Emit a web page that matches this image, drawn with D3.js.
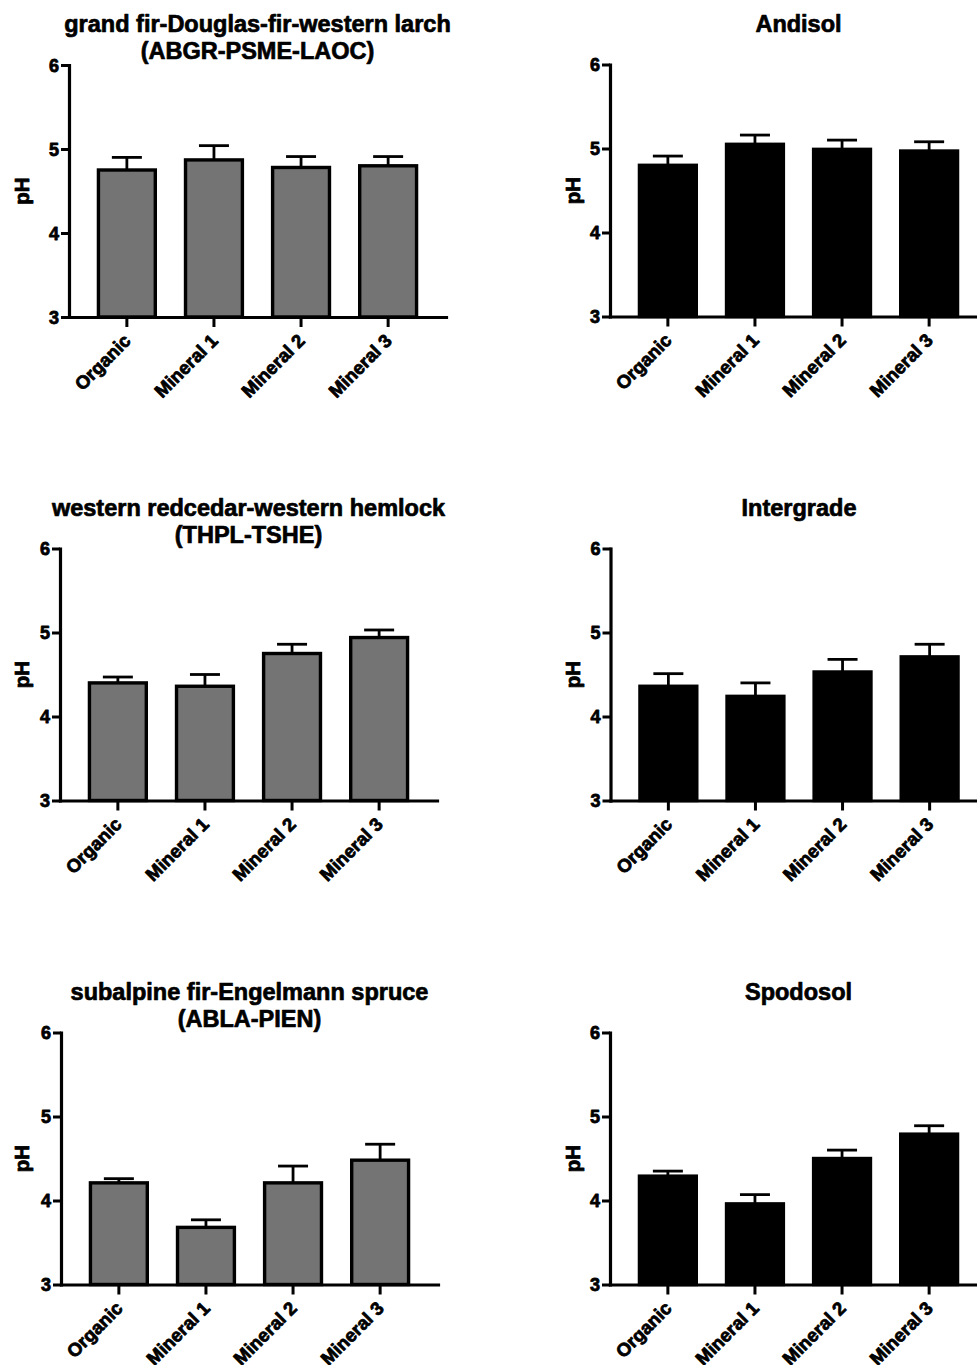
<!DOCTYPE html>
<html>
<head>
<meta charset="utf-8">
<script src="https://cdn.jsdelivr.net/npm/d3@7"></script>
<style>
  html, body { margin: 0; padding: 0; background: #fff; }
  svg { display: block; font-family: "Liberation Sans", Arial, Helvetica, sans-serif; font-weight: bold; }
  svg text { stroke: #000; stroke-width: 0.8px; paint-order: stroke; stroke-linejoin: round; }
  svg text.title { stroke-width: 0.7px; }
</style>
</head>
<body>
<svg id="chart" width="977" height="1365"></svg>
<script>
// Soil horizons shown on every panel
const categories = ["Organic", "Mineral 1", "Mineral 2", "Mineral 3"];
const yTicks = [3, 4, 5, 6];

// Panel titles (one entry per line)
const titleABGR = ["grand fir-Douglas-fir-western larch", "(ABGR-PSME-LAOC)"];
const titleAndisol = ["Andisol"];
const titleTHPL = ["western redcedar-western hemlock", "(THPL-TSHE)"];
const titleIntergrade = ["Intergrade"];
const titleABLA = ["subalpine fir-Engelmann spruce", "(ABLA-PIEN)"];
const titleSpodosol = ["Spodosol"];

// Mean pH and standard error per horizon
const meanABGR = [4.75, 4.87, 4.78, 4.80];
const seABGR = [0.15, 0.17, 0.13, 0.11];
const meanAndisol = [4.80, 5.05, 4.99, 4.97];
const seAndisol = [0.11, 0.11, 0.11, 0.11];
const meanTHPL = [4.40, 4.36, 4.75, 4.94];
const seTHPL = [0.07, 0.14, 0.11, 0.09];
const meanIntergrade = [4.36, 4.24, 4.53, 4.71];
const seIntergrade = [0.15, 0.16, 0.15, 0.15];
const meanABLA = [4.21, 3.68, 4.21, 4.48];
const seABLA = [0.05, 0.09, 0.20, 0.19];
const meanSpodosol = [4.29, 3.96, 4.50, 4.79];
const seSpodosol = [0.06, 0.11, 0.10, 0.10];

// Panel placement and styling
const panels = [
  { title: titleABGR, mean: meanABGR, se: seABGR, left: 69, top: 65, labelX: 29, fill: "#747474" },
  { title: titleAndisol, mean: meanAndisol, se: seAndisol, left: 610, top: 64.5, labelX: 580, fill: "#000" },
  { title: titleTHPL, mean: meanTHPL, se: seTHPL, left: 60, top: 548.5, labelX: 29, fill: "#747474" },
  { title: titleIntergrade, mean: meanIntergrade, se: seIntergrade, left: 610.5, top: 548.5, labelX: 580, fill: "#000" },
  { title: titleABLA, mean: meanABLA, se: seABLA, left: 61, top: 1032.5, labelX: 29, fill: "#747474" },
  { title: titleSpodosol, mean: meanSpodosol, se: seSpodosol, left: 610, top: 1032.5, labelX: 580, fill: "#000" }
];

const plotW = 377, plotH = 252;
const svg = d3.select("#chart");

panels.forEach(p => {
  const g = svg.append("g");
  const x = d3.scaleBand()
    .domain(categories)
    .range([p.left, p.left + plotW])
    .paddingInner(0.347)
    .paddingOuter(0.338);
  const y = d3.scaleLinear().domain([3, 6]).range([p.top + plotH, p.top]);
  const base = y(3);

  // Bars
  const rows = categories.map((c, i) => ({ c, v: p.mean[i], e: p.se[i] }));
  g.selectAll("rect.bar").data(rows).join("rect")
    .attr("class", "bar")
    .attr("x", d => x(d.c))
    .attr("width", x.bandwidth())
    .attr("y", d => y(d.v))
    .attr("height", d => base - y(d.v))
    .attr("fill", p.fill)
    .attr("stroke", "#000")
    .attr("stroke-width", 3.4);

  // Upper error bars
  const cx = d => x(d.c) + x.bandwidth() / 2;
  g.selectAll("line.err").data(rows).join("line")
    .attr("class", "err")
    .attr("x1", cx).attr("x2", cx)
    .attr("y1", d => y(d.v)).attr("y2", d => y(d.v + d.e))
    .attr("stroke", "#000").attr("stroke-width", 2.8);
  g.selectAll("line.cap").data(rows).join("line")
    .attr("class", "cap")
    .attr("x1", d => cx(d) - 15).attr("x2", d => cx(d) + 15)
    .attr("y1", d => y(d.v + d.e)).attr("y2", d => y(d.v + d.e))
    .attr("stroke", "#000").attr("stroke-width", 2.8);

  // Y axis
  const ya = g.append("g")
    .attr("transform", `translate(${p.left},0)`)
    .call(d3.axisLeft(y).tickValues(yTicks).tickFormat(d3.format("d")).tickSize(8).tickSizeOuter(0).tickPadding(2));
  ya.attr("font-size", null).attr("font-family", null);
  ya.select(".domain").attr("stroke-width", 3.2).attr("stroke-linecap", "square");
  ya.selectAll(".tick line").attr("stroke-width", 3);
  ya.selectAll(".tick text").style("font-size", "18px").style("font-weight", "bold")
    .attr("fill", "#000").attr("dy", "0.36em");

  // X axis
  const xa = g.append("g")
    .attr("transform", `translate(0,${base})`)
    .call(d3.axisBottom(x).tickSize(10).tickSizeOuter(0).tickPadding(0));
  xa.attr("font-size", null).attr("font-family", null);
  xa.select(".domain").attr("stroke-width", 3.2).attr("stroke-linecap", "square");
  xa.selectAll(".tick line").attr("stroke-width", 3);
  xa.selectAll(".tick text")
    .style("font-size", "18.5px").style("font-weight", "bold")
    .attr("fill", "#000")
    .attr("text-anchor", "end")
    .attr("x", 0).attr("y", 0).attr("dy", 0)
    .attr("transform", "translate(5,25) rotate(-45)");

  // Y axis title
  g.append("text")
    .attr("transform", `translate(${p.labelX},${(y(3) + y(6)) / 2}) rotate(-90)`)
    .attr("text-anchor", "middle")
    .style("font-size", "20.5px")
    .text("pH");

  // Panel title
  const cxTitle = p.left + plotW / 2;
  g.append("text")
    .attr("class", "title")
    .attr("text-anchor", "middle")
    .style("font-size", "23.5px")
    .selectAll("tspan").data(p.title).join("tspan")
    .attr("x", cxTitle)
    .attr("y", (d, i) => p.top - 33 + i * 27)
    .text(d => d);
});
</script>
</body>
</html>
